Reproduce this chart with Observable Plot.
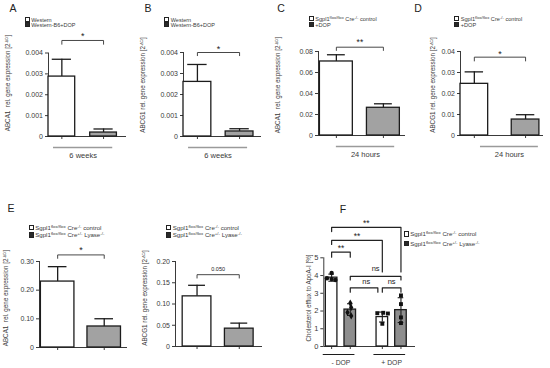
<!DOCTYPE html>
<html><head><meta charset="utf-8">
<script src="https://cdn.jsdelivr.net/npm/d3@7"></script>
<script src="https://cdn.jsdelivr.net/npm/@observablehq/plot@0.6"></script>
<style>
body{margin:0;background:#fff;}
#fig{position:relative;width:550px;height:368px;overflow:hidden;font-family:"Liberation Sans",Arial,sans-serif;color:#333;background:#fff;}
#fig > svg{position:absolute;left:0;top:0;}
.t{position:absolute;white-space:nowrap;line-height:1;}
.yl{transform:translate(-50%,-50%) rotate(-90deg);font-size:6.3px;color:#3a3a3a;}
.lg{font-size:5.5px;line-height:5px;color:#3a3a3a;}
.lg.wide{font-size:6.1px;}
.lg.mid{font-size:5.6px;}
.lg i{display:inline-block;width:3.2px;height:3.2px;border:0.7px solid #222;margin-right:1.6px;vertical-align:-0.3px;}
.lt{font-size:10.5px;transform:translate(-50%,-50%);color:#222;}
sup{font-size:3.5px;vertical-align:2px;line-height:0;}
.lg.wide sup{font-size:4.4px;vertical-align:2px;}
.lg.mid sup{font-size:4.2px;vertical-align:1.8px;}
</style></head><body><div id="fig"></div>
<script>
// ---------- data ----------
const legendAB = ["Western", "Western-B6+DOP"];
const legendCD = ["Sgpl1<sup>flox/flox</sup> Cre<sup>-/-</sup> control", "+DOP"];
const legendEF = ["Sgpl1<sup>flox/flox</sup> Cre<sup>-/-</sup> control", "Sgpl1<sup>flox/flox</sup> Cre<sup>+/-</sup> Lyase<sup>-/-</sup>"];

const valuesA = [0.00287, 0.00019];
const errorsA = [0.00083, 0.00017];
const valuesB = [0.0026, 0.00024];
const errorsB = [0.00083, 0.00013];
const ticksAB = [0, 0.001, 0.002, 0.003, 0.004];
const tickLabelsAB = ["0", "0.001", "0.002", "0.003", "0.004"];

const valuesC = [0.0705, 0.0264];
const errorsC = [0.0064, 0.0038];
const ticksC = [0, 0.02, 0.04, 0.06, 0.08];
const tickLabelsC = ["0", "0.02", "0.04", "0.06", "0.08"];

const valuesD = [0.0246, 0.0076];
const errorsD = [0.0057, 0.0023];
const ticksD = [0, 0.01, 0.02, 0.03, 0.04];
const tickLabelsD = ["0", "0.01", "0.02", "0.03", "0.04"];

const valuesE1 = [0.230, 0.0733];
const errorsE1 = [0.052, 0.027];
const ticksE1 = [0, 0.1, 0.2, 0.3];
const tickLabelsE1 = ["0", "0.10", "0.20", "0.30"];

const valuesE2 = [0.118, 0.042];
const errorsE2 = [0.026, 0.013];
const ticksE2 = [0, 0.05, 0.1, 0.15, 0.2];
const tickLabelsE2 = ["0", "0.05", "0.10", "0.15", "0.20"];

const groupLabelAB = "6 weeks";
const groupLabelCD = "24 hours";
const sigLabels = {A: "*", B: "*", C: "**", D: "*", E1: "*", E2: "0.050"};

// panel F: cholesterol efflux
const fGroups = ["- DOP", "+ DOP"];
const fMeans = [3.88, 2.08, 1.66, 2.05];
const fSD = [0.2, 0.33, 0.28, 0.7];
const fPoints = [
  [4.15, 3.85, 3.75, 3.8],
  [2.45, 2.2, 1.92, 1.72],
  [1.88, 1.9, 1.86, 1.28],
  [2.88, 2.39, 1.64, 1.32]
];
const fTicks = [0, 1, 2, 3, 4, 5];
const fTickLabels = ["0", "1", "2", "3", "4", "5"];
const fComparisons = [
  {a: 0, b: 3, label: "**"},
  {a: 0, b: 2, label: "**"},
  {a: 0, b: 1, label: "**"},
  {a: 1, b: 3, label: "ns"},
  {a: 1, b: 2, label: "ns"},
  {a: 2, b: 3, label: "ns"}
];

const yTitles = {
  A: "ABCA1 &nbsp;rel. gene expression [2<sup>-ΔCt</sup>]",
  B: "ABCG1 rel. gene expression [2<sup>-ΔCt</sup>]",
  C: "ABCA1 &nbsp;rel. gene expression [2<sup>-ΔCt</sup>]",
  D: "ABCG1 rel. gene expression [2<sup>-ΔCt</sup>]",
  E1: "ABCA1 &nbsp;rel. gene expression [2<sup>-ΔCt</sup>]",
  E2: "ABCG1 rel. gene expression [2<sup>-ΔCt</sup>]",
  F: "Cholesterol efflux to ApoA-I [%]"
};

// ---------- drawing ----------
const W = 550, H = 368;
const GRAY = "#a2a2a2", GRAY_F = "#8e8e8e", INK = "#1c1c1c", AXC = "#3a3a3a", TXT = "#3a3a3a";
const fig = document.getElementById("fig");

function base(box, xDomain, yMax, marks) {
  return Plot.plot({
    width: W, height: H,
    marginLeft: box.left, marginRight: W - box.right,
    marginTop: box.top, marginBottom: H - box.bottom,
    x: {domain: xDomain}, y: {domain: [0, yMax]},
    color: {type: "identity"},
    style: {background: "transparent", fontFamily: "Liberation Sans, Arial, sans-serif", color: TXT, overflow: "visible"},
    marks
  });
}

function barPanel(p) {
  const rows = p.values.map((v, i) => ({i, v, hi: v + p.errors[i], fill: i ? GRAY : "#fff"}));
  const x0 = p.xDomain[0];
  const [bt, bl] = p.bracket;
  const marks = [
    Plot.ruleY([0], {stroke: AXC, strokeWidth: 1}),
    Plot.ruleX([x0], {y1: 0, y2: p.yMax, stroke: AXC, strokeWidth: 1}),
    Plot.axisY({ticks: p.ticks, tickFormat: d => p.tickLabels[p.ticks.indexOf(d)], tickSize: 3, tickPadding: 2.5, fontSize: 7, label: null}),
    Plot.axisX({ticks: [0, 1], tickFormat: () => "", tickSize: 3, label: null}),
    Plot.ruleX(rows, {x: "i", y1: "v", y2: "hi", stroke: INK, strokeWidth: 1.3}),
    Plot.ruleY(rows, {y: "hi", x1: d => d.i - p.cap, x2: d => d.i + p.cap, stroke: INK, strokeWidth: 1.3}),
    Plot.rectY(rows, {x1: d => d.i - p.hw, x2: d => d.i + p.hw, y1: 0, y2: "v", fill: "fill", stroke: INK, strokeWidth: 1.3}),
    Plot.line([[0, bl], [0, bt], [1, bt], [1, bl]], {stroke: "#333", strokeWidth: 0.9}),
    Plot.text([p.sig], {x: () => 0.5, y: () => bt, dy: p.sigDy, fontSize: p.sigSize, text: d => d, fill: "#222"})
  ];
  if (p.group) marks.push(
    Plot.ruleY([0], {x1: () => p.group[0], x2: () => p.group[1], dy: 11, stroke: "#9a9a9a", strokeWidth: 1.5}),
    Plot.text([p.groupLabel], {x: () => (p.group[0] + p.group[1]) / 2, y: () => 0, dy: 19.5, fontSize: 7.5, text: d => d, fill: TXT})
  );
  fig.appendChild(base(p.box, p.xDomain, p.yMax, marks));
}

barPanel({values: valuesA, errors: errorsA, ticks: ticksAB, tickLabels: tickLabelsAB, yMax: 0.004,
  box: {left: 48, right: 126, top: 52.5, bottom: 136}, xDomain: [-0.32, 1.55], hw: 0.32, cap: 0.23,
  bracket: [0.0046, 0.00442], sig: sigLabels.A, sigDy: -4.5, sigSize: 9, group: [-0.2, 1.22], groupLabel: groupLabelAB});
barPanel({values: valuesB, errors: errorsB, ticks: ticksAB, tickLabels: tickLabelsAB, yMax: 0.004,
  box: {left: 183, right: 261, top: 52, bottom: 136}, xDomain: [-0.33, 1.52], hw: 0.33, cap: 0.23,
  bracket: [0.0040, 0.00385], sig: sigLabels.B, sigDy: -3.5, sigSize: 9, group: [-0.21, 1.19], groupLabel: groupLabelAB});
barPanel({values: valuesC, errors: errorsC, ticks: ticksC, tickLabels: tickLabelsC, yMax: 0.08,
  box: {left: 318, right: 405, top: 51, bottom: 135}, xDomain: [-0.38, 1.47], hw: 0.35, cap: 0.19,
  bracket: [0.0841, 0.081], sig: sigLabels.C, sigDy: -5, sigSize: 8.5, group: [0, 1.24], groupLabel: groupLabelCD});
barPanel({values: valuesD, errors: errorsD, ticks: ticksD, tickLabels: tickLabelsD, yMax: 0.04,
  box: {left: 460, right: 543, top: 51, bottom: 135}, xDomain: [-0.27, 1.35], hw: 0.27, cap: 0.18,
  bracket: [0.0373, 0.0355], sig: sigLabels.D, sigDy: -3.5, sigSize: 9, group: [0.12, 1.25], groupLabel: groupLabelCD});
barPanel({values: valuesE1, errors: errorsE1, ticks: ticksE1, tickLabels: tickLabelsE1, yMax: 0.3,
  box: {left: 39, right: 127, top: 261, bottom: 347}, xDomain: [-0.39, 1.5], hw: 0.36, cap: 0.2,
  bracket: [0.323, 0.311], sig: sigLabels.E1, sigDy: -4.5, sigSize: 9});
barPanel({values: valuesE2, errors: errorsE2, ticks: ticksE2, tickLabels: tickLabelsE2, yMax: 0.2,
  box: {left: 175, right: 262, top: 261, bottom: 346}, xDomain: [-0.51, 1.55], hw: 0.34, cap: 0.2,
  bracket: [0.169, 0.161], sig: sigLabels.E2, sigDy: -5, sigSize: 5.5});

// panel F
(function () {
  const GAP = 2.72;
  const pos = fMeans.map((_, j) => Math.floor(j / 2) * GAP + (j % 2));
  const rows = fMeans.map((m, j) => ({x: pos[j], m, lo: m - fSD[j], hi: m + fSD[j], fill: j % 2 ? GRAY_F : "#fff"}));
  const jitter = [[0, -0.25, 0.2, 0], [0, 0.05, -0.15, 0.05], [-0.27, 0.05, 0.3, 0], [0, 0, 0, 0]];
  const symbols = ["circle", "diamond", "square", "square"];
  const cap = 0.15;
  const levels = [[6.72, 6.48, 4.2], [5.98, 5.75, 4.2], [5.32, 5.03, 5.03], [3.95, 3.75, 3.75], [3.31, 3.06, 3.06], [3.31, 3.06, 3.06]];
  const shrink = [[0, 0], [0, 0], [0, 0], [0, 0], [0, -0.24], [0, 0]];
  const sigDy = [-4, -4, -4, -8, -6, -6];
  const marks = [
    Plot.ruleY([0], {stroke: AXC, strokeWidth: 1}),
    Plot.ruleX([-0.42], {y1: 0, y2: 5, stroke: AXC, strokeWidth: 1}),
    Plot.axisY({ticks: fTicks, tickFormat: d => fTickLabels[fTicks.indexOf(d)], tickSize: 3, tickPadding: 2.5, fontSize: 7.5, label: null}),
    Plot.axisX({ticks: pos, tickFormat: () => "", tickSize: 3, label: null}),
    Plot.rectY(rows, {x1: d => d.x - 0.31, x2: d => d.x + 0.31, y1: 0, y2: "m", fill: "fill", stroke: INK, strokeWidth: 1.3}),
    Plot.ruleX(rows, {x: "x", y1: "lo", y2: "hi", stroke: INK, strokeWidth: 1.1}),
    Plot.ruleY(rows, {y: "hi", x1: d => d.x - cap, x2: d => d.x + cap, stroke: INK, strokeWidth: 1.1}),
    Plot.ruleY(rows, {y: "lo", x1: d => d.x - cap, x2: d => d.x + cap, stroke: INK, strokeWidth: 1.1})
  ];
  fPoints.forEach((arr, j) => {
    const pts = arr.map((y, k) => ({x: pos[j] + jitter[j][k], y}));
    marks.push(Plot.dot(pts, {x: "x", y: "y", symbol: symbols[j], r: 2.2, fill: "#111", stroke: "none"}));
  });
  fComparisons.forEach((c, n) => {
    const [top, la, lb] = levels[n];
    const xa = pos[c.a] + shrink[n][0], xb = pos[c.b] + shrink[n][1];
    marks.push(Plot.line([[xa, la], [xa, top], [xb, top], [xb, lb]], {stroke: "#222", strokeWidth: 1.2}));
    marks.push(Plot.text([c.label], {x: () => (pos[c.a] + pos[c.b]) / 2, y: () => top, dy: sigDy[n], fontSize: c.label === "ns" ? 7.5 : 8.5, text: d => d, fill: "#222"}));
  });
  fGroups.forEach((g, k) => {
    marks.push(Plot.ruleY([0], {x1: () => k * GAP - 0.45, x2: () => k * GAP + 1.25, dy: 8, stroke: INK, strokeWidth: 1}));
    marks.push(Plot.text([g], {x: () => k * GAP + 0.5, y: () => 0, dy: 16, fontSize: 6.8, text: d => d, fill: TXT}));
  });
  fig.appendChild(base({left: 323.3, right: 415, top: 257.3, bottom: 346}, [-0.42, 4.5], 5, marks));
})();

// ---------- text: panel letters, axis titles, legends ----------
function addText(cls, x, y, html) {
  const d = document.createElement("div");
  d.className = "t " + cls;
  d.style.left = x + "px"; d.style.top = y + "px";
  d.innerHTML = html;
  fig.appendChild(d);
}
[["A", 13, 8], ["B", 148, 8], ["C", 281, 8], ["D", 418, 8], ["E", 11, 208], ["F", 343, 209]]
  .forEach(([l, x, y]) => addText("lt", x, y, l));
[["A", 8, 83], ["B", 143, 85], ["C", 278, 85], ["D", 433, 85], ["E1", 6, 298], ["E2", 145, 298], ["F", 309, 298]]
  .forEach(([k, x, y]) => addText("yl", x, y, yTitles[k]));
function legend(x, y, dy, labels, cls) {
  labels.forEach((html, i) => addText("lg " + cls, x, y + i * dy, `<i style="background:${i ? "#2a2a2a" : "#fff"}"></i>${html}`));
}
legend(24.5, 16.8, 5.2, legendAB, "");
legend(164, 16.8, 5.2, legendAB, "");
legend(308.5, 15.6, 6.6, legendCD, "mid");
legend(454, 15.6, 6.6, legendCD, "mid");
legend(28.5, 225, 7.3, legendEF, "wide");
legend(166, 225, 7.3, legendEF, "wide");
legend(403.5, 231.3, 9.3, legendEF, "wide");
</script></body></html>
